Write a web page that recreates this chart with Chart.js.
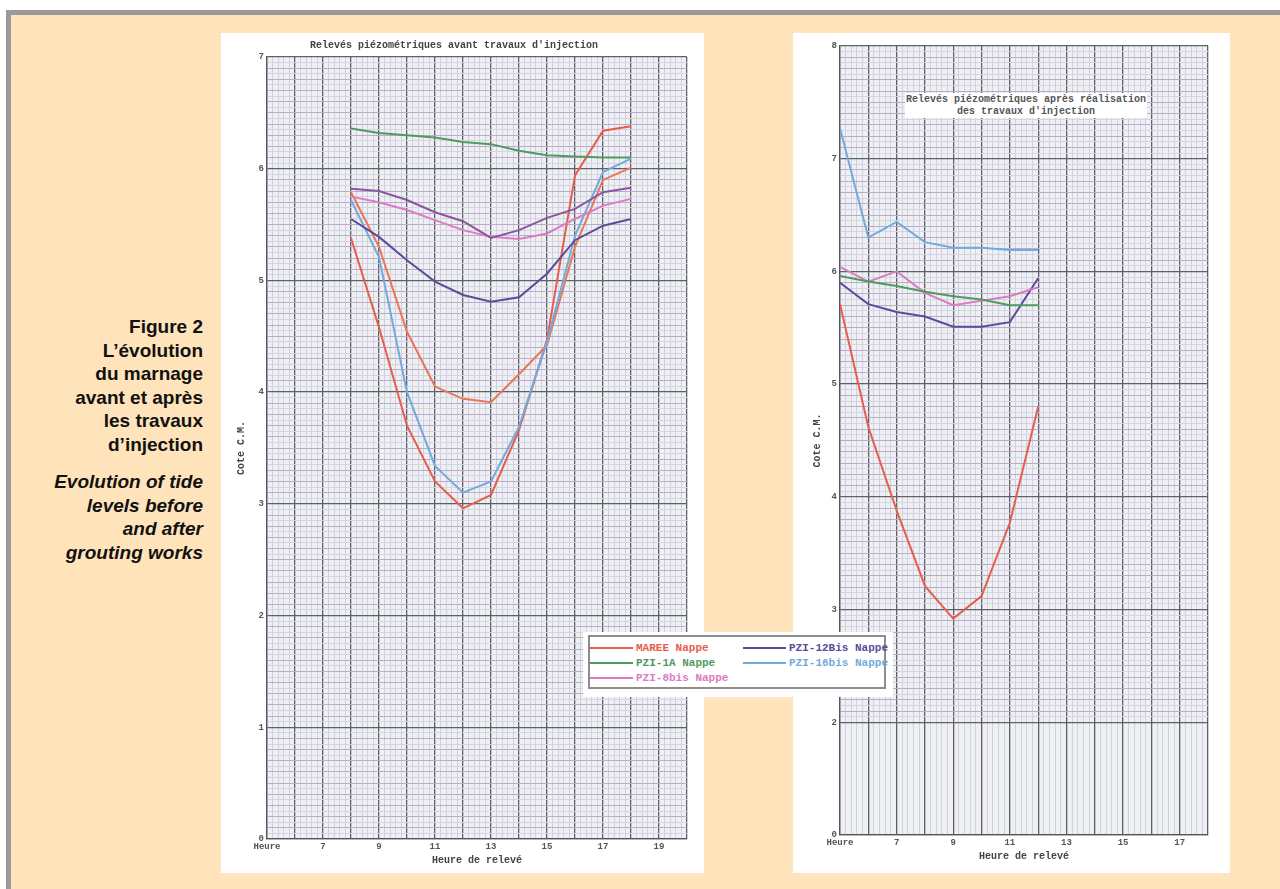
<!DOCTYPE html>
<html>
<head>
<meta charset="utf-8">
<script src="https://cdn.jsdelivr.net/npm/chart.js@4.4.1/dist/chart.umd.min.js"></script>
<style>
  html, body { margin: 0; padding: 0; background: #fff; width: 1280px; height: 889px; overflow: hidden; }
  #frame { position: absolute; left: 6px; top: 10px; width: 1274px; height: 879px; box-sizing: border-box;
           background: #fee3bb; border-left: 5px solid #9a9a9a; border-top: 5px solid #9a9a9a; }
  .panel { position: absolute; background: #fff; }
  #pBefore { left: 221px; top: 33px; width: 483px; height: 840px; }
  #pAfter { left: 793px; top: 33px; width: 437px; height: 840px; }
  #caption { position: absolute; left: 0; top: 315px; width: 203px; text-align: right;
             font-family: "Liberation Sans", Arial, sans-serif; font-weight: bold; font-size: 19px;
             line-height: 23.5px; color: #111; }
  #caption .en { font-style: italic; margin-top: 14px; }
  #afterTitle { position: absolute; left: 905px; top: 93px; width: 242px; height: 25px; background: #fff;
                font-family: "Liberation Mono", monospace; font-weight: bold; font-size: 10px; line-height: 12px;
                color: #555; text-align: center; padding-top: 1px; box-sizing: border-box; }
  #legend { position: absolute; left: 583px; top: 632px; width: 310px; height: 65px; background: #fff; }
  #legendBox { position: absolute; left: 5px; top: 3px; width: 298px; height: 54px; border: 2px solid #8d8d8d; box-sizing: border-box; }
  .item { position: absolute; font-family: "Liberation Mono", monospace; font-weight: bold; font-size: 11px; line-height: 12px; white-space: nowrap; }
  .item span { display: inline-block; width: 43px; height: 2px; vertical-align: middle; margin-right: 3px; }
</style>
</head>
<body>
<div id="frame"></div>
<div class="panel" id="pBefore"><canvas id="beforeChart" width="483" height="840"></canvas></div>
<div class="panel" id="pAfter"><canvas id="afterChart" width="437" height="840"></canvas></div>
<div id="caption">
  <div>Figure 2<br>L’évolution<br>du marnage<br>avant et après<br>les travaux<br>d’injection</div>
  <div class="en">Evolution of tide<br>levels before<br>and after<br>grouting works</div>
</div>
<div id="afterTitle">Relevés piézométriques après réalisation<br>des travaux d'injection</div>
<div id="legend"><div id="legendBox"></div></div>
<script>
// Before grouting (hours 8..18)
const hoursBefore = [8, 9, 10, 11, 12, 13, 14, 15, 16, 17, 18];
const mareeBefore = [5.38, 4.58, 3.70, 3.20, 2.96, 3.08, 3.66, 4.47, 5.94, 6.34, 6.38];
const mareeBefore2 = [5.79, 5.30, 4.54, 4.05, 3.94, 3.91, 4.16, 4.42, 5.30, 5.90, 6.01];
const pzi1aBefore = [6.36, 6.32, 6.30, 6.28, 6.24, 6.22, 6.16, 6.12, 6.11, 6.10, 6.10];
const pzi8Before = [5.75, 5.70, 5.63, 5.54, 5.45, 5.39, 5.37, 5.42, 5.55, 5.67, 5.73];
const pzi12Before = [5.55, 5.39, 5.18, 4.99, 4.87, 4.81, 4.85, 5.06, 5.36, 5.49, 5.55];
const pzi12Before2 = [5.82, 5.80, 5.72, 5.61, 5.53, 5.38, 5.45, 5.56, 5.64, 5.79, 5.83];
const pzi16Before = [5.72, 5.21, 4.00, 3.34, 3.10, 3.20, 3.69, 4.45, 5.40, 5.97, 6.09];

// After grouting (hours 5..12)
const hoursAfter = [5, 6, 7, 8, 9, 10, 11, 12];
const mareeAfter = [5.71, 4.62, 3.88, 3.21, 2.92, 3.12, 3.77, 4.80];
const pzi1aAfter = [5.96, 5.91, 5.87, 5.82, 5.78, 5.75, 5.70, 5.70];
const pzi8After = [6.04, 5.91, 6.00, 5.81, 5.70, 5.74, 5.78, 5.86];
const pzi12After = [5.90, 5.71, 5.64, 5.60, 5.51, 5.51, 5.55, 5.94];
const pzi16After = [7.27, 6.30, 6.44, 6.26, 6.21, 6.21, 6.19, 6.19];

// tick labels
const xTicksBefore = [5, 7, 9, 11, 13, 15, 17, 19];
const xTicksAfter = [5, 7, 9, 11, 13, 15, 17];
const xTickText = ["Heure", "7", "9", "11", "13", "15", "17", "19"];
const yTicksBefore = [0, 1, 2, 3, 4, 5, 6, 7];
const yTickTextBefore = ["0", "1", "2", "3", "4", "5", "6", "7"];
const yTicksAfter = [1, 2, 3, 4, 5, 6, 7, 8];
const yTickTextAfter = ["0", "2", "3", "4", "5", "6", "7", "8"];

const legendNames = ["MAREE Nappe", "PZI-1A Nappe", "PZI-8bis Nappe", "PZI-12Bis Nappe", "PZI-16bis Nappe"];

const RED = "#e65d4c", ORANGE = "#ea7656", GREEN = "#4f9a5e", PINK = "#d97cc4",
      PURPLE = "#5b4b9c", PURPLE2 = "#8c559e", BLUE = "#72aadc";
const legendColors = [RED, GREEN, PINK, PURPLE, BLUE];

const tickFont = { family: "Liberation Mono", size: 9, weight: "bold" };
const titleFont = { family: "Liberation Mono", size: 10, weight: "bold" };

const isInt = v => Math.abs(v - Math.round(v)) < 1e-6;
const isTenth = v => Math.abs(v * 10 - Math.round(v * 10)) < 1e-6;
const labelOf = (ticks, texts) => v => {
  const i = ticks.findIndex(t => Math.abs(t - v) < 1e-6);
  return i < 0 ? "" : texts[i];
};

const plotBg = {
  id: "plotBg",
  beforeDraw(chart) {
    const { ctx, chartArea: a } = chart;
    ctx.save();
    ctx.fillStyle = "#eff0f4";
    ctx.fillRect(a.left, a.top, a.width, a.height);
    ctx.restore();
  }
};

function series(hours, values, color) {
  return {
    data: hours.map((h, i) => ({ x: h, y: values[i] })),
    borderColor: color, borderWidth: 2, pointRadius: 0, tension: 0, fill: false
  };
}

function xScale(min, max, ticks, height, titlePad) {
  return {
    type: "linear", min: min, max: max,
    ticks: { stepSize: 0.2, autoSkip: false, maxRotation: 0, minRotation: 0, padding: 2,
             font: tickFont, color: "#555", callback: labelOf(ticks, xTickText) },
    grid: { drawTicks: false,
            color: c => isInt(c.tick.value) ? "#5f5f6a" : "#cfd2db",
            lineWidth: c => isInt(c.tick.value) ? 1.3 : 1 },
    border: { color: "#55555f", width: 1.3 },
    title: { display: true, text: "Heure de relevé", font: titleFont, color: "#444", padding: { top: 0, bottom: titlePad } },
    afterFit: s => { s.height = height; }
  };
}

function yScale(min, max, ticks, texts, width, titlePad, cut) {
  return {
    min: min, max: max,
    ticks: { stepSize: 0.05, autoSkip: false, padding: 3, font: tickFont, color: "#555",
             callback: labelOf(ticks, texts) },
    grid: { drawTicks: false,
            color: c => {
              const v = c.tick.value;
              if (isInt(v)) return "#5f5f6a";
              if (v < cut) return "rgba(0,0,0,0)";
              return isTenth(v) ? "#bfa8cd" : "#d3d6de";
            },
            lineWidth: c => isInt(c.tick.value) ? 1.3 : 1 },
    border: { color: "#55555f", width: 1.3 },
    title: { display: true, text: "Cote C.M.", font: titleFont, color: "#444", padding: { top: titlePad, bottom: 0 } },
    afterFit: s => { s.width = width; }
  };
}

// Before grouting chart
new Chart(document.getElementById("beforeChart").getContext("2d"), {
  type: "line",
  data: {
    datasets: [
      series(hoursBefore, pzi1aBefore, GREEN),
      series(hoursBefore, pzi12Before2, PURPLE2),
      series(hoursBefore, pzi8Before, PINK),
      series(hoursBefore, pzi12Before, PURPLE),
      series(hoursBefore, pzi16Before, BLUE),
      series(hoursBefore, mareeBefore2, ORANGE),
      series(hoursBefore, mareeBefore, RED)
    ]
  },
  options: {
    responsive: false, animation: false,
    layout: { padding: { left: 0, right: 17, top: 0, bottom: 0 } },
    scales: {
      x: xScale(5, 20, xTicksBefore, 34, 7),
      y: yScale(0, 7, yTicksBefore, yTickTextBefore, 46, 14, 0)
    },
    plugins: {
      legend: { display: false },
      tooltip: { enabled: false },
      title: { display: true, text: "Relevés piézométriques avant travaux d'injection",
               font: titleFont, color: "#444", padding: { top: 6, bottom: 6 } }
    }
  },
  plugins: [plotBg]
});

// After grouting chart
new Chart(document.getElementById("afterChart").getContext("2d"), {
  type: "line",
  data: {
    datasets: [
      series(hoursAfter, pzi16After, BLUE),
      series(hoursAfter, pzi1aAfter, GREEN),
      series(hoursAfter, pzi8After, PINK),
      series(hoursAfter, pzi12After, PURPLE),
      series(hoursAfter, mareeAfter, RED)
    ]
  },
  options: {
    responsive: false, animation: false,
    layout: { padding: { left: 0, right: 22, top: 13, bottom: 0 } },
    scales: {
      x: xScale(5, 18, xTicksAfter, 38, 11),
      y: yScale(1, 8, yTicksAfter, yTickTextAfter, 47, 18, 2)
    },
    plugins: { legend: { display: false }, tooltip: { enabled: false } }
  },
  plugins: [plotBg]
});

// Legend box
const legendCol = [0, 0, 0, 1, 1];
const legendRow = [0, 1, 2, 0, 1];
const box = document.getElementById("legendBox");
legendNames.forEach((name, i) => {
  const el = document.createElement("div");
  el.className = "item";
  el.style.left = (legendCol[i] ? 153 : 0) + "px";
  el.style.top = (5 + legendRow[i] * 15) + "px";
  el.style.color = legendColors[i];
  el.innerHTML = '<span style="background:' + legendColors[i] + '"></span>' + name;
  box.appendChild(el);
});
</script>
</body>
</html>
